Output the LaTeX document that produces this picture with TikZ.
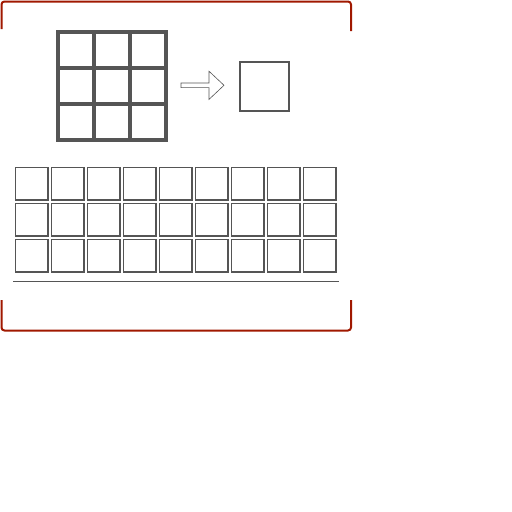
\documentclass[tikz,border=0pt]{standalone}
\usetikzlibrary{positioning}
\definecolor{ConvGray}{HTML}{555555}
\definecolor{ConvRed}{HTML}{A01800}

\begin{document}
\begin{tikzpicture}[
  x=1pt,y=-1pt,
  frame/.style={draw=ConvRed,line width=2pt,rounded corners=3pt},
  kernel/.style={draw=ConvGray,line width=4pt,minimum size=36pt,inner sep=0pt},
  output/.style={draw=ConvGray,line width=2pt,minimum size=49pt,inner sep=0pt},
  cell/.style={draw=ConvGray,line width=1.4pt,minimum size=32.4pt,inner sep=0pt},
  blockarrow/.style={draw=ConvGray,line width=0.6pt,fill=white}
]
\useasboundingbox (0,0) rectangle (512,512);
% frame brackets
\draw[frame] (1.5,29) -- (1.5,1.5) -- (351,1.5) -- (351,31);
\draw[frame] (1.5,300) -- (1.5,330.5) -- (351,330.5) -- (351,300);
% kernel
\foreach \r in {0,1,2} {
  \foreach \c in {0,1,2} {
    \node[kernel] (k-\r-\c) at (76+36*\c,50+36*\r) {};
  }
}
% result
\node[output] (res) at (264,86) {};
% arrow
\coordinate (tail) at (181,85.3);
\draw[blockarrow] (tail) ++(0,-2.3) -- ++(28,0) -- ++(0,-11.8) -- ++(15,14.1)
  -- ++(-15,14.1) -- ++(0,-11.8) -- ++(-28,0) -- cycle;
% input cells
\foreach \r in {0,1,2} {
  \foreach \c in {0,...,8} {
    \node[cell] (in-\r-\c) at (31.9+36*\c,183.8+36*\r) {};
  }
}
\draw[ConvGray,line width=1pt] (13,281.3) -- (339,281.3);
\end{tikzpicture}
\end{document}
